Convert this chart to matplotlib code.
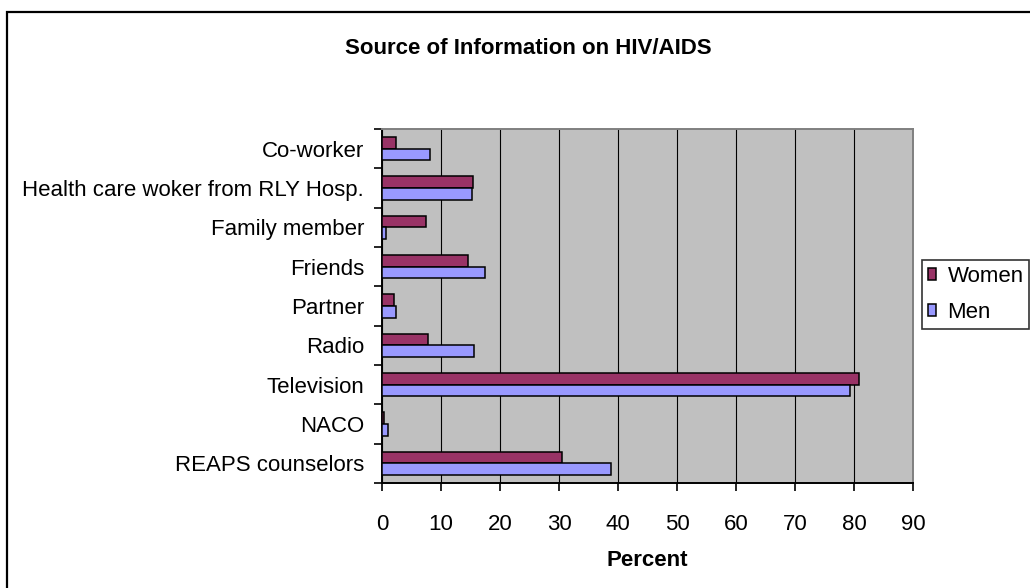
import numpy as np
import matplotlib.pyplot as plt
from matplotlib.patches import Rectangle, Patch

plt.rcParams["font.family"] = ["Liberation Sans", "DejaVu Sans"]

# bottom -> top
sources = ["REAPS counselors", "NACO", "Television", "Radio", "Partner",
           "Friends", "Family member", "Health care woker from RLY Hosp.",
           "Co-worker"]
women = [30.5, 0.3, 80.8, 7.8, 2.0, 14.5, 7.4, 15.5, 2.4]
men = [38.8, 1.0, 79.3, 15.6, 2.4, 17.5, 0.6, 15.2, 8.1]

W, H = 1030, 588
FS = 16
fig = plt.figure(figsize=(W / 100, H / 100), dpi=100)
fig.patch.set_facecolor("white")


def px(x0, y0, x1, y1):
    # pixel box (top-left origin) -> figure fraction rect
    return [x0 / W, 1 - y1 / H, (x1 - x0) / W, (y1 - y0) / H]


# chart-area frame, running off the right and bottom edges
fig.patches.append(Rectangle((7 / W, -0.1), 1.2, 1 - 12 / H + 0.1,
                             transform=fig.transFigure, fill=False,
                             edgecolor="black", linewidth=1.6))

ax = fig.add_axes(px(382, 129, 913, 483))
ax.set_facecolor("#c0c0c0")

y = np.arange(len(sources))
h = 0.3
ax.barh(y + h / 2, women, height=h, color="#993366", edgecolor="black",
        linewidth=1.1, label="Women", zorder=3)
ax.barh(y - h / 2, men, height=h, color="#9999ff", edgecolor="black",
        linewidth=1.1, label="Men", zorder=3)

ax.set_xlim(0, 90)
ax.set_ylim(-0.5, len(sources) - 0.5)
ax.set_xticks(np.arange(0, 91, 10))
ax.xaxis.grid(True, color="black", linewidth=0.8, zorder=1)
ax.set_axisbelow(True)

ax.set_yticks(np.arange(-0.5, len(sources), 1.0))
ax.set_yticklabels([])
ax.set_yticks(y, minor=True)
ax.set_yticklabels(sources, minor=True, fontsize=FS)
ax.tick_params(axis="y", which="major", direction="out", length=5.5,
               width=1.2, color="black")
ax.tick_params(axis="y", which="minor", length=0, pad=13)
ax.tick_params(axis="x", direction="out", length=6, width=1.2,
               labelsize=FS, pad=16)

for side in ("left", "bottom"):
    ax.spines[side].set_color("black")
    ax.spines[side].set_linewidth(1.4)
for side in ("top", "right"):
    ax.spines[side].set_color("#808080")
    ax.spines[side].set_linewidth(1.4)

fig.text(647 / W, 1 - 560 / H, "Percent", ha="center", va="center",
         fontsize=FS, fontweight="bold")
fig.text(528 / W, 1 - 48 / H, "Source of Information on HIV/AIDS",
         ha="center", va="center", fontsize=FS, fontweight="bold")

handles = [Patch(facecolor="#993366", edgecolor="black", linewidth=1.1),
           Patch(facecolor="#9999ff", edgecolor="black", linewidth=1.1)]
leg = fig.legend(handles, ["Women", "Men"], loc="upper left",
                 bbox_to_anchor=(922 / W, 1 - 260 / H), fontsize=FS,
                 frameon=True, fancybox=False, edgecolor="black",
                 handlelength=0.4, handleheight=0.45, handletextpad=0.5,
                 borderpad=0.25, labelspacing=0.7, borderaxespad=0)
leg.get_frame().set_linewidth(1.2)

fig.savefig("out.png", dpi=100, facecolor="white")
